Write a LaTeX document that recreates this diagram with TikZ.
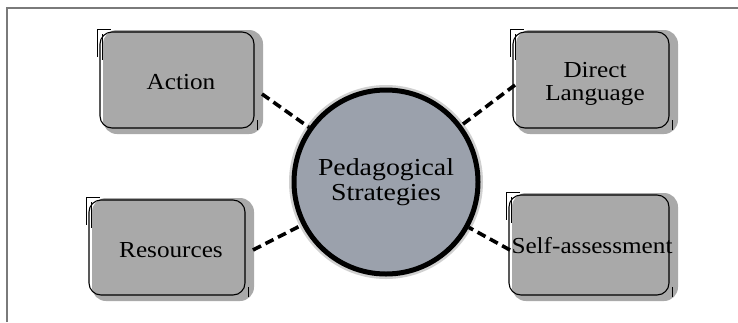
\documentclass[tikz,border=0pt]{standalone}
\usepackage{fontspec}
\setmainfont{Liberation Serif}
\newfontfamily\boxfont[FakeStretch=1.1]{Liberation Serif}
\newfontfamily\circfont[FakeStretch=1.14]{Liberation Serif}
\definecolor{boxgray}{HTML}{A9A9A9}
\definecolor{circgray}{HTML}{9BA1AC}
\definecolor{framegray}{HTML}{7A7A7A}
\begin{document}
\begin{tikzpicture}[x=1bp,y=-1bp,
  boxfill/.style={fill=boxgray, rounded corners=14bp},
  boxline/.style={draw=black, line width=1.1bp, rounded corners=12bp},
  boxtext/.style={font=\boxfont\fontsize{23}{23}\selectfont, align=center, text=black},
  connector/.style={draw=black, line width=3.6bp, dash pattern=on 9bp off 5bp},
  centre/.style={circle, minimum size=184bp, fill=circgray, draw=black, line width=5bp,
     font=\circfont\fontsize{24.5}{24.5}\selectfont, align=center, text=black, inner sep=0pt}]
\useasboundingbox (0,0) rectangle (738,322);
\fill[white] (0,0) rectangle (738,322);
% frame
\draw[framegray, line width=1.2bp] (7,322) -- (7,8) -- (738,8);

% boxes: gray fill with sketchy outlines
\foreach \x/\y/\w/\h in {103/30/160/104, 92/198/162/103, 516/30/162/104, 512/193/166/108}{
  \fill[boxfill] (\x,\y) rectangle ++(\w,\h);
  \draw[boxline] (\x-3,\y+2) rectangle ++(\w-6,\h-8);
  \draw[line width=0.7bp] (\x-1,\y+4) -- ++(0,26);
  \draw[line width=0.5bp] (\x-6,\y-1) -- ++(0,28);
  \draw[line width=0.5bp] (\x-6,\y-1) -- ++(14,0);
  \draw[line width=0.6bp] (\x+\w-6,\y+\h-14) -- ++(0,10);
}
\node[boxtext] (act) at (181,82) {Action};
\node[boxtext] (res) at (171,250) {Resources};
\node[boxtext] (dir) at (595,84) {Direct\\Language};
\node[boxtext] (self) at (592,246) {Self-assessment};
\coordinate (actR) at (262,94);
\coordinate (resR) at (253,250);
\coordinate (dirL) at (515,85);
\coordinate (selfL) at (510,250);

% centre
\fill[gray!60, opacity=0.6] (386,182) circle (97bp);
\node[centre] (ped) at (386,182) {Pedagogical\\Strategies};

% connectors
\draw[connector] (actR) -- (ped);
\draw[connector] (resR) -- (ped);
\draw[connector] (dirL) -- (ped);
\draw[connector] (selfL) -- (ped);
\end{tikzpicture}
\end{document}
